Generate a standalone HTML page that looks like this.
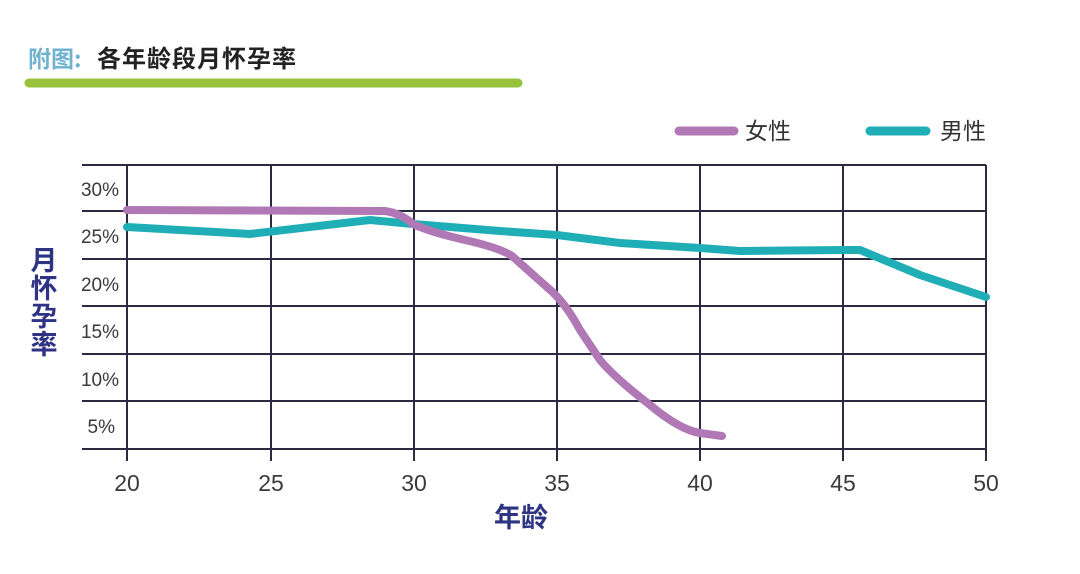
<!DOCTYPE html>
<html><head><meta charset="utf-8"><style>
html,body{margin:0;padding:0;background:#fff;}
body{width:1080px;height:569px;overflow:hidden;}
</style></head><body>
<svg width="1080" height="569" viewBox="0 0 1080 569" xmlns="http://www.w3.org/2000/svg" font-family="Liberation Sans, Noto Sans CJK SC, sans-serif">
<text x="28" y="67" font-size="23" font-weight="bold" fill="#6fb3cf" font-family="Noto Sans CJK SC, sans-serif">附图:</text>
<text x="97" y="67" font-size="24" font-weight="bold" fill="#222" font-family="Noto Sans CJK SC, sans-serif" letter-spacing="1">各年龄段月怀孕率</text>
<line x1="29" y1="83" x2="518" y2="83" stroke="#97c23b" stroke-width="9" stroke-linecap="round"/>
<g stroke="#2c2a40" stroke-width="2">
<line x1="82" y1="165" x2="986" y2="165"/>
<line x1="82" y1="211" x2="986" y2="211"/>
<line x1="82" y1="259" x2="986" y2="259"/>
<line x1="82" y1="306" x2="986" y2="306"/>
<line x1="82" y1="354" x2="986" y2="354"/>
<line x1="82" y1="401" x2="986" y2="401"/>
<line x1="82" y1="449" x2="986" y2="449"/>
<line x1="127" y1="165" x2="127" y2="461"/>
<line x1="271" y1="165" x2="271" y2="461"/>
<line x1="414" y1="165" x2="414" y2="461"/>
<line x1="557" y1="165" x2="557" y2="461"/>
<line x1="700" y1="165" x2="700" y2="461"/>
<line x1="843" y1="165" x2="843" y2="461"/>
<line x1="986" y1="165" x2="986" y2="461"/>
</g>
<g font-size="19" fill="#3a3a3a" text-anchor="end">
<text x="119" y="196">30%</text>
<text x="119" y="243">25%</text>
<text x="119" y="291">20%</text>
<text x="119" y="338">15%</text>
<text x="119" y="386">10%</text>
<text x="115" y="433">5%</text>
</g>
<g font-size="23" fill="#3a3a3a" text-anchor="middle">
<text x="127" y="491">20</text>
<text x="271" y="491">25</text>
<text x="414" y="491">30</text>
<text x="557" y="491">35</text>
<text x="700" y="491">40</text>
<text x="843" y="491">45</text>
<text x="986" y="491">50</text>
</g>
<g font-size="27" font-weight="bold" fill="#2e3384" font-family="Noto Sans CJK SC, sans-serif" text-anchor="middle">
<text x="44" y="270">月</text>
<text x="44" y="298">怀</text>
<text x="44" y="326">孕</text>
<text x="44" y="354">率</text>
<text x="521" y="527">年龄</text>
</g>
<polyline fill="none" stroke="#1faeb6" stroke-width="8" stroke-linecap="round" stroke-linejoin="round"
points="127,227 250,234 370,220 413,224 500,231 557,235 620,243 700,248 740,251 845,250 860,250 920,275 986,297"/>
<path fill="none" stroke="#b178b6" stroke-width="8" stroke-linecap="round" stroke-linejoin="round"
d="M127,210 L385,211 Q400,213 413,224 Q430,232 465,240 Q500,248 512,256 L548,288 Q565,302 580,330 L600,360 Q615,378 650,405 Q680,430 700,433 L722,436"/>
<line x1="679" y1="131" x2="734" y2="131" stroke="#b178b6" stroke-width="9" stroke-linecap="round"/>
<line x1="870" y1="131" x2="926" y2="131" stroke="#1faeb6" stroke-width="9" stroke-linecap="round"/>
<g font-size="23" fill="#333" font-family="Noto Sans CJK SC, sans-serif">
<text x="745" y="139">女性</text>
<text x="940" y="139">男性</text>
</g>
</svg>
</body></html>
